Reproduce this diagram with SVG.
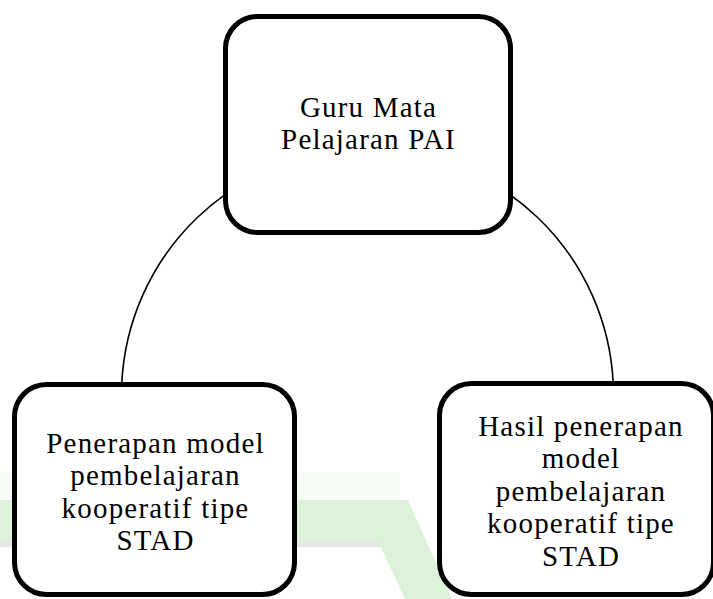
<svg xmlns="http://www.w3.org/2000/svg" width="713" height="599" viewBox="0 0 713 599">
<style>
.box{fill:#ffffff;stroke:#000000;stroke-width:5}
.lbl{font-family:"Liberation Serif","Times New Roman",serif;font-size:29px;letter-spacing:1.2px;fill:#000000;text-anchor:middle}
.conn{fill:none;stroke:#000000;stroke-width:1.6}
</style>
<rect width="713" height="599" fill="#ffffff"/>
<g id="watermark">
<rect x="0" y="472" width="400" height="28" fill="#f7fbf6"/>
<polygon points="0,500 408,500 452,599 405,599 378,541 0,541" fill="#d5f0cf" opacity="0.8"/>
<polygon points="0,541 378,541 381,547 0,547" fill="#e5e8e4"/>
</g>
<g id="connectors">
<path class="conn" d="M 121.8 383 A 246 246 0 0 1 613.2 383"/>
</g>
<g id="node-guru">
<rect class="box" x="225.5" y="16.5" width="285" height="216" rx="32" ry="32"/>
<text class="lbl" x="368.5" y="117">Guru Mata<tspan x="368.5" dy="32.4">Pelajaran PAI</tspan></text>
</g>
<g id="node-penerapan">
<rect class="box" x="14.5" y="384.5" width="280" height="210" rx="32" ry="32"/>
<text class="lbl" x="155.5" y="453">Penerapan model<tspan x="155.5" dy="32.4">pembelajaran</tspan><tspan x="155.5" dy="32.4">kooperatif tipe</tspan><tspan x="155.5" dy="32.4">STAD</tspan></text>
</g>
<g id="node-hasil">
<rect class="box" x="439.5" y="383.5" width="274" height="211" rx="32" ry="32"/>
<text class="lbl" x="581" y="436">Hasil penerapan<tspan x="581" dy="32.4">model</tspan><tspan x="581" dy="32.4">pembelajaran</tspan><tspan x="581" dy="32.4">kooperatif tipe</tspan><tspan x="581" dy="32.4">STAD</tspan></text>
</g>
</svg>
